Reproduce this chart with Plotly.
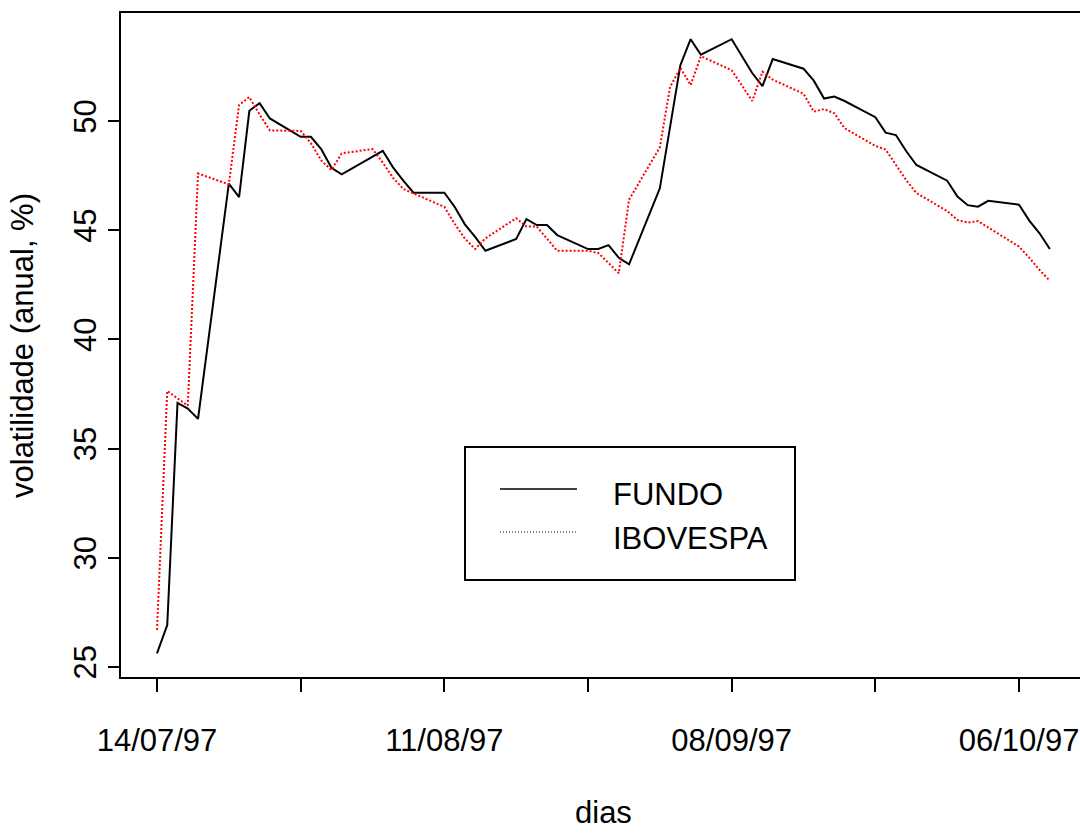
import plotly.graph_objects as go

# Business days, 14/07/97 to 09/10/97
dias = [
    "1997-07-14", "1997-07-15", "1997-07-16", "1997-07-17", "1997-07-18",
    "1997-07-21", "1997-07-22", "1997-07-23", "1997-07-24", "1997-07-25",
    "1997-07-28", "1997-07-29", "1997-07-30", "1997-07-31", "1997-08-01",
    "1997-08-04", "1997-08-05", "1997-08-06", "1997-08-07", "1997-08-08",
    "1997-08-11", "1997-08-12", "1997-08-13", "1997-08-14", "1997-08-15",
    "1997-08-18", "1997-08-19", "1997-08-20", "1997-08-21", "1997-08-22",
    "1997-08-25", "1997-08-26", "1997-08-27", "1997-08-28", "1997-08-29",
    "1997-09-01", "1997-09-02", "1997-09-03", "1997-09-04", "1997-09-05",
    "1997-09-08", "1997-09-09", "1997-09-10", "1997-09-11", "1997-09-12",
    "1997-09-15", "1997-09-16", "1997-09-17", "1997-09-18", "1997-09-19",
    "1997-09-22", "1997-09-23", "1997-09-24", "1997-09-25", "1997-09-26",
    "1997-09-29", "1997-09-30", "1997-10-01", "1997-10-02", "1997-10-03",
    "1997-10-06", "1997-10-07", "1997-10-08", "1997-10-09",
]

# Annualised volatility (%) of the fund
fundo = [
    25.62, 26.92, 37.09, 36.83, 36.36,
    47.14, 46.52, 50.47, 50.82, 50.12,
    49.28, 49.28, 48.72, 47.86, 47.56,
    48.37, 48.64, 47.88, 47.27, 46.72,
    46.72, 46.08, 45.27, 44.70, 44.06,
    44.60, 45.51, 45.24, 45.24, 44.78,
    44.14, 44.14, 44.32, 43.74, 43.44,
    46.92, 49.70, 52.56, 53.75, 53.04,
    53.75, 53.00, 52.20, 51.60, 52.84,
    52.40, 51.85, 51.03, 51.12, 50.92,
    50.18, 49.47, 49.36, 48.63, 47.99,
    47.27, 46.54, 46.15, 46.08, 46.35,
    46.17, 45.44, 44.86, 44.14,
]

# Annualised volatility (%) of the IBOVESPA index
ibovespa = [
    26.70, 37.64, 37.30, 36.97, 47.60,
    47.10, 50.74, 51.10, 50.30, 49.57,
    49.55, 48.98, 48.20, 47.76, 48.52,
    48.72, 48.10, 47.40, 46.89, 46.69,
    46.07, 45.30, 44.62, 44.14, 44.63,
    45.55, 45.17, 45.17, 44.60, 44.06,
    44.06, 43.96, 43.50, 43.03, 46.40,
    48.80, 51.57, 52.44, 51.65, 52.97,
    52.33, 51.60, 50.92, 52.26, 51.90,
    51.25, 50.43, 50.55, 50.36, 49.67,
    48.86, 48.70, 48.00, 47.30, 46.70,
    45.88, 45.47, 45.35, 45.42, 45.13,
    44.25, 43.74, 43.18, 42.69,
]

tick_dates = ["1997-07-14", "1997-07-28", "1997-08-11", "1997-08-25",
              "1997-09-08", "1997-09-22", "1997-10-06"]
tick_labels = ["14/07/97", "", "11/08/97", "", "08/09/97", "", "06/10/97"]
y_ticks = [25, 30, 35, 40, 45, 50]

FONT = "Liberation Sans, Arial, Helvetica, sans-serif"
FS = 31

fig = go.Figure()
fig.add_trace(go.Scatter(
    x=dias, y=fundo, mode="lines", name="FUNDO", showlegend=False,
    line=dict(color="black", width=2),
))
fig.add_trace(go.Scatter(
    x=dias, y=ibovespa, mode="lines", name="IBOVESPA", showlegend=False,
    line=dict(color="red", width=2, dash="2px,2px"),
))

# Plot region in pixels: left 121, right 1080, top 13, bottom 677
L, R, T, B = 121, 1080, 13, 677


def px(x):
    return (x - L) / (R - L)


def py(y):
    return (B - y) / (B - T)


# Legend box drawn by hand
shapes = [
    dict(type="rect", xref="paper", yref="paper",
         x0=px(465), x1=px(795), y0=py(580), y1=py(447),
         line=dict(color="black", width=2), fillcolor="white"),
    dict(type="line", xref="paper", yref="paper",
         x0=px(500), x1=px(577), y0=py(489), y1=py(489),
         line=dict(color="black", width=1.5)),
    dict(type="line", xref="paper", yref="paper",
         x0=px(500), x1=px(577), y0=py(532), y1=py(532),
         line=dict(color="black", width=1, dash="1px,2px")),
]

annotations = [
    dict(text="FUNDO", xref="paper", yref="paper", x=px(611), y=py(494),
         xanchor="left", yanchor="middle", showarrow=False,
         font=dict(size=FS, color="black", family=FONT)),
    dict(text="IBOVESPA", xref="paper", yref="paper", x=px(611), y=py(538),
         xanchor="left", yanchor="middle", showarrow=False,
         font=dict(size=FS, color="black", family=FONT)),
    dict(text="dias", xref="paper", yref="paper", x=px(603), y=py(813),
         xanchor="center", yanchor="middle", showarrow=False,
         font=dict(size=FS, color="black", family=FONT)),
    dict(text="volatilidade (anual, %)", xref="paper", yref="paper",
         x=px(22), y=py(346), textangle=-90,
         xanchor="center", yanchor="middle", showarrow=False,
         font=dict(size=FS, color="black", family=FONT)),
]

fig.update_layout(
    width=1080, height=835,
    margin=dict(l=L, r=1080 - R, t=T, b=835 - B, pad=0),
    paper_bgcolor="white", plot_bgcolor="white",
    font=dict(family=FONT, size=FS, color="black"),
    shapes=shapes, annotations=annotations,
    showlegend=False,
)

fig.update_xaxes(
    type="date", range=["1997-07-10 11:50", "1997-10-11 22:35"],
    tickmode="array", tickvals=tick_dates, ticktext=tick_labels,
    ticks="outside", ticklen=13, tickwidth=2, tickcolor="black",
    showline=True, linecolor="black", linewidth=2, mirror=True,
    showgrid=False, zeroline=False, ticklabelstandoff=22,
    tickfont=dict(size=FS, family=FONT, color="black"),
)
fig.update_yaxes(
    range=[24.54, 54.95],
    tickmode="array", tickvals=y_ticks,
    ticks="outside", ticklen=11, tickwidth=2, tickcolor="black",
    showline=True, linecolor="black", linewidth=2, mirror=False,
    showgrid=False, zeroline=False, tickangle=-90, ticklabelstandoff=0,
    tickfont=dict(size=FS, family=FONT, color="black"),
)

fig.write_html("out.html")
